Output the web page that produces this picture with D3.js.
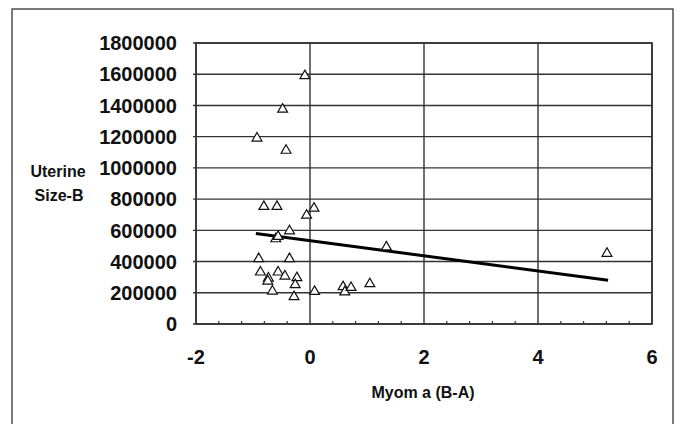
<!DOCTYPE html>
<html>
<head>
<meta charset="utf-8">
<script src="https://cdn.jsdelivr.net/npm/d3@7"></script>
<style>
  body { margin: 0; background: #fff; }
  svg { display: block; font-family: "Liberation Sans", Arial, sans-serif; font-weight: bold; }
</style>
</head>
<body>
<svg id="viz" width="682" height="424"></svg>
<script>
// Myoma (B-A) vs Uterine Size-B
const myoma = [-0.09, -0.48, -0.93, -0.42, -0.81, -0.58, 0.07, -0.06, -0.36, -0.60, -0.56,
  1.34, -0.90, -0.36, -0.87, -0.73, -0.74, -0.56, -0.44, -0.23, -0.26, -0.66, -0.28,
  0.08, 0.58, 0.61, 0.72, 1.05, 5.21];
const uterine = [1590000, 1375000, 1190000, 1112000, 752000, 752000, 741000, 696000, 596000, 545000, 560000,
  493000, 418000, 418000, 332000, 293000, 274000, 332000, 306000, 296000, 251000, 210000, 174000,
  208000, 238000, 205000, 233000, 257000, 452000];

// trend line end points
const trendX = [-0.95, 5.23];
const trendY = [580000, 280000];

const xTicks = [-2, 0, 2, 4, 6];
const yTicks = [0, 200000, 400000, 600000, 800000, 1000000, 1200000, 1400000, 1600000, 1800000];

const M = { left: 196, right: 652, top: 43, bottom: 324 };

const svg = d3.select("#viz");

// outer frame
svg.append("rect")
  .attr("x", 12).attr("y", 9).attr("width", 661).attr("height", 430)
  .attr("fill", "none").attr("stroke", "#333").attr("stroke-width", 1.3);

const x = d3.scaleLinear().domain([-2, 6]).range([M.left, M.right]);
const y = d3.scaleLinear().domain([0, 1800000]).range([M.bottom, M.top]);

// grid
svg.append("g")
  .selectAll("line")
  .data(yTicks)
  .join("line")
  .attr("x1", M.left - 3).attr("x2", M.right)
  .attr("y1", d => y(d)).attr("y2", d => y(d))
  .attr("stroke", "#333").attr("stroke-width", 1.4);

svg.append("g")
  .selectAll("line")
  .data(xTicks)
  .join("line")
  .attr("x1", d => x(d)).attr("x2", d => x(d))
  .attr("y1", M.top).attr("y2", M.bottom)
  .attr("stroke", "#333").attr("stroke-width", 1.4);

// minor ticks on the x axis
svg.append("g")
  .selectAll("line")
  .data(d3.range(-2, 6, 0.4).filter(v => Math.abs(v - Math.round(v / 2) * 2) > 0.01))
  .join("line")
  .attr("x1", d => x(d)).attr("x2", d => x(d))
  .attr("y1", M.bottom).attr("y2", M.bottom - 3)
  .attr("stroke", "#333").attr("stroke-width", 1.2);

// plot border
svg.append("rect")
  .attr("x", M.left).attr("y", M.top)
  .attr("width", M.right - M.left).attr("height", M.bottom - M.top)
  .attr("fill", "none").attr("stroke", "#333").attr("stroke-width", 1.6);

// tick labels
svg.append("g")
  .selectAll("text")
  .data(yTicks)
  .join("text")
  .attr("x", M.left - 19)
  .attr("y", d => y(d))
  .attr("dy", "0.36em")
  .attr("text-anchor", "end")
  .attr("font-size", 20)
  .attr("fill", "#111")
  .text(d => d);

svg.append("g")
  .selectAll("text")
  .data(xTicks)
  .join("text")
  .attr("x", d => x(d))
  .attr("y", 357)
  .attr("dy", "0.36em")
  .attr("text-anchor", "middle")
  .attr("font-size", 20)
  .attr("fill", "#111")
  .text(d => d);

// axis titles
svg.append("text")
  .attr("x", 423).attr("y", 392).attr("dy", "0.36em")
  .attr("text-anchor", "middle").attr("font-size", 16).attr("fill", "#111")
  .text("Myom a (B-A)");

svg.append("text")
  .attr("x", 58).attr("y", 171).attr("dy", "0.36em")
  .attr("text-anchor", "middle").attr("font-size", 16).attr("fill", "#111")
  .text("Uterine");
svg.append("text")
  .attr("x", 59).attr("y", 195).attr("dy", "0.36em")
  .attr("text-anchor", "middle").attr("font-size", 16).attr("fill", "#111")
  .text("Size-B");

// trend line
svg.append("line")
  .attr("x1", x(trendX[0])).attr("y1", y(trendY[0]))
  .attr("x2", x(trendX[1])).attr("y2", y(trendY[1]))
  .attr("stroke", "#000").attr("stroke-width", 3);

// points
const tri = d3.symbol().type(d3.symbolTriangle).size(42);
svg.append("g")
  .selectAll("path")
  .data(myoma.map((m, i) => ({ m, u: uterine[i] })))
  .join("path")
  .attr("d", tri)
  .attr("transform", d => `translate(${x(d.m)},${y(d.u)})`)
  .attr("fill", "#fff")
  .attr("stroke", "#111")
  .attr("stroke-width", 1.2);
</script>
</body>
</html>
